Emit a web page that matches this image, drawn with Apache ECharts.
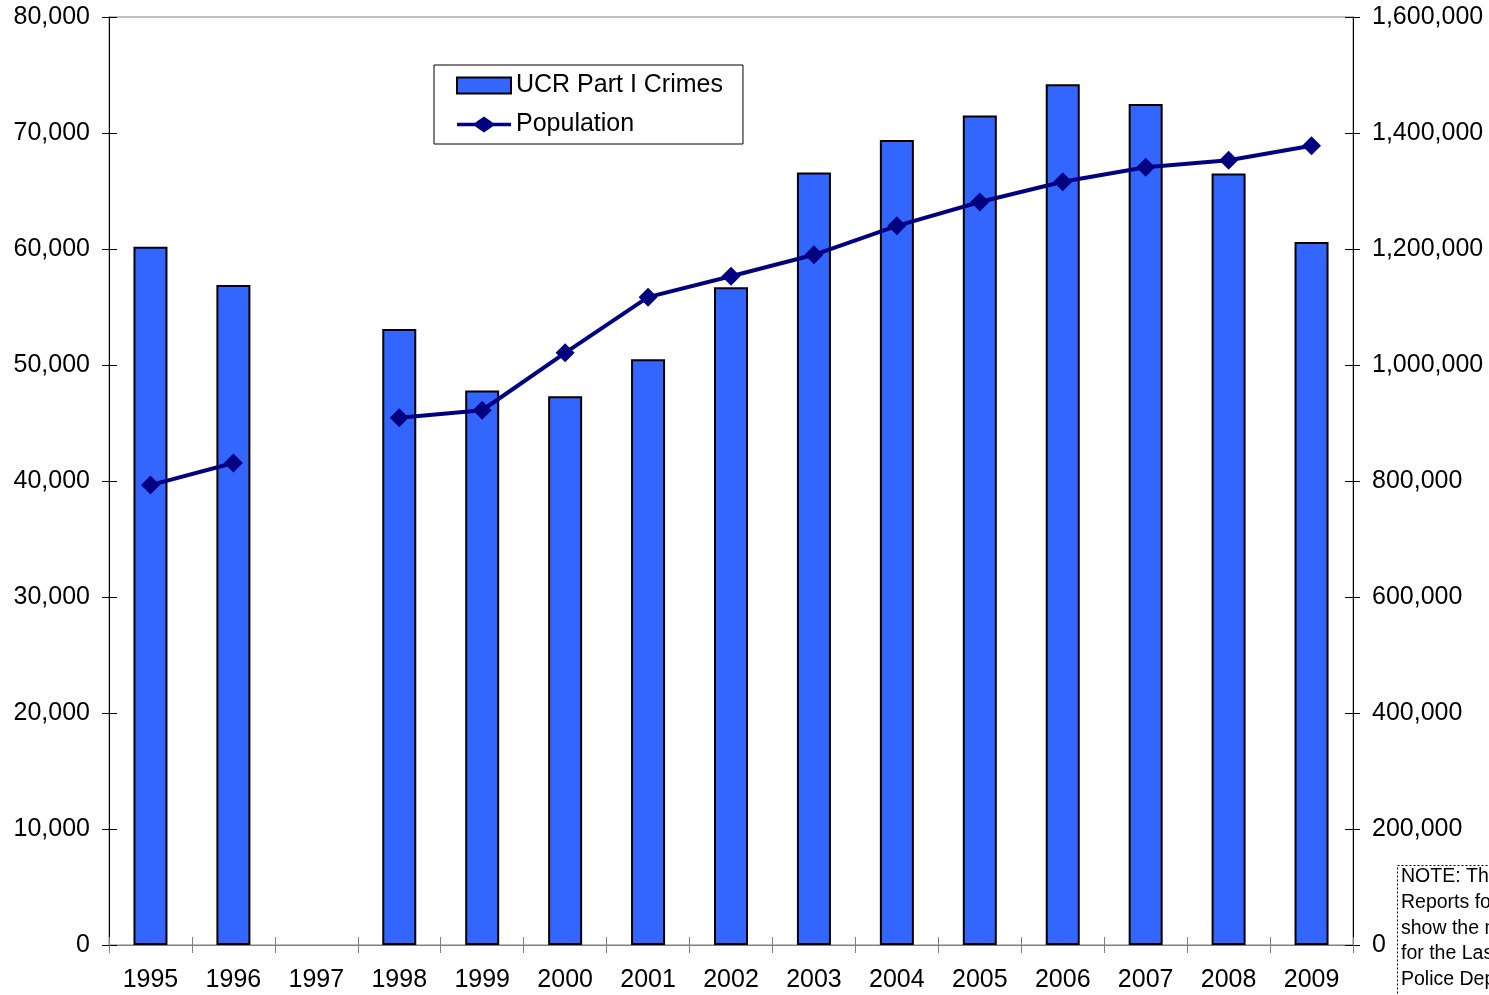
<!DOCTYPE html>
<html>
<head>
<meta charset="utf-8">
<script src="https://cdn.jsdelivr.net/npm/echarts@6/dist/echarts.min.js"></script>
<style>
html,body{margin:0;padding:0;background:#fff;}
#chart{width:1489px;height:995px;}
</style>
</head>
<body>
<div id="chart"></div>
<script>
const years = ['1995','1996','1997','1998','1999','2000','2001','2002','2003','2004','2005','2006','2007','2008','2009'];
const crimes = [60200, 56900, null, 53100, 47800, 47300, 50500, 56700, 66600, 69400, 71500, 74200, 72500, 66500, 60600];
const population = [793000, 831000, null, 909000, 922000, 1021000, 1117000, 1153000, 1190000, 1240000, 1281000, 1316000, 1341000, 1353000, 1378000];
const noteLines = ['NOTE: The Uniform Crime', 'Reports for 1997 do not', 'show the numbers', 'for the Las Vegas Metropolitan', 'Police Department.'];

const FONT = 'Liberation Sans, Arial, sans-serif';
const fmt = v => Math.round(v).toString().replace(/\B(?=(\d{3})+(?!\d))/g, ',');

const chart = echarts.init(document.getElementById('chart'));

const noteGraphics = [{
  type: 'rect',
  shape: {x: 1397.5, y: 865.5, width: 300, height: 200},
  style: {fill: '#fff', stroke: '#000', lineWidth: 1, lineDash: [2, 2]},
  z: 10
}];
noteLines.forEach((t, i) => {
  noteGraphics.push({
    type: 'text',
    x: 1401, y: 877 + i * 25.7,
    style: {text: t, fontSize: 19.5, fontFamily: FONT, fill: '#000', textVerticalAlign: 'middle', verticalAlign: 'middle'},
    z: 11
  });
});

const option = {
  animation: false,
  backgroundColor: '#fff',
  textStyle: {fontFamily: FONT},
  grid: {left: 109, right: 136, top: 17, bottom: 50, show: true, borderColor: '#808080', borderWidth: 1, backgroundColor: 'transparent'},
  legend: {
    orient: 'vertical',
    left: 434, top: 65,
    padding: [8, 20, 7, 22],
    itemGap: 14,
    itemWidth: 54, itemHeight: 16,
    backgroundColor: '#fff',
    borderColor: '#000', borderWidth: 1, borderRadius: 0,
    textStyle: {fontSize: 25, color: '#000', fontFamily: FONT},
    data: [
      {name: 'UCR Part I Crimes', icon: 'rect', itemStyle: {color: '#3366FF', borderColor: '#000', borderWidth: 2}},
      {name: 'Population', icon: 'path://M0,6.2 L18,6.2 L27,0 L36,6.2 L54,6.2 L54,9.8 L36,9.8 L27,16 L18,9.8 L0,9.8 Z',
       itemStyle: {color: '#000080', borderWidth: 0}, lineStyle: {width: 0}}
    ]
  },
  xAxis: [
    {
      type: 'category', data: years, position: 'bottom', boundaryGap: true,
      axisLine: {show: true, lineStyle: {color: '#808080', width: 1}},
      axisTick: {show: true, length: 8, lineStyle: {color: '#808080'}},
      axisLabel: {fontSize: 25, color: '#000', margin: 23, fontFamily: FONT},
      splitLine: {show: false}
    },
    {
      type: 'category', data: years, position: 'bottom', boundaryGap: true,
      axisLine: {show: false},
      axisTick: {show: true, inside: true, length: 8, lineStyle: {color: '#808080'}},
      axisLabel: {show: false},
      splitLine: {show: false}
    }
  ],
  yAxis: [
    {
      type: 'value', min: 0, max: 80000, interval: 10000, position: 'left',
      axisLine: {show: true, lineStyle: {color: '#000', width: 1}},
      axisTick: {show: true, length: 7, lineStyle: {color: '#000'}},
      axisLabel: {fontSize: 25, color: '#000', margin: 19, formatter: fmt, fontFamily: FONT},
      splitLine: {show: false}
    },
    {
      type: 'value', min: 0, max: 1600000, interval: 200000, position: 'right',
      axisLine: {show: true, lineStyle: {color: '#000', width: 1}},
      axisTick: {show: true, length: 7, lineStyle: {color: '#000'}},
      axisLabel: {fontSize: 25, color: '#000', margin: 19, formatter: fmt, fontFamily: FONT},
      splitLine: {show: false}
    },
    {
      type: 'value', min: 0, max: 80000, interval: 10000, position: 'left',
      axisLine: {show: false},
      axisTick: {show: true, inside: true, length: 8, lineStyle: {color: '#000'}},
      axisLabel: {show: false},
      splitLine: {show: false}
    },
    {
      type: 'value', min: 0, max: 1600000, interval: 200000, position: 'right',
      axisLine: {show: false},
      axisTick: {show: true, inside: true, length: 8, lineStyle: {color: '#000'}},
      axisLabel: {show: false},
      splitLine: {show: false}
    }
  ],
  series: [
    {
      name: 'UCR Part I Crimes', type: 'bar', xAxisIndex: 0, yAxisIndex: 0,
      data: crimes, barWidth: 34,
      itemStyle: {color: '#3366FF', borderColor: '#000', borderWidth: 2}
    },
    {
      name: 'Population', type: 'line', xAxisIndex: 0, yAxisIndex: 1,
      data: population, connectNulls: false,
      symbol: 'diamond', symbolSize: 19,
      lineStyle: {color: '#000080', width: 4},
      itemStyle: {color: '#000080'}
    }
  ],
  graphic: noteGraphics
};
chart.setOption(option);
</script>
</body>
</html>
